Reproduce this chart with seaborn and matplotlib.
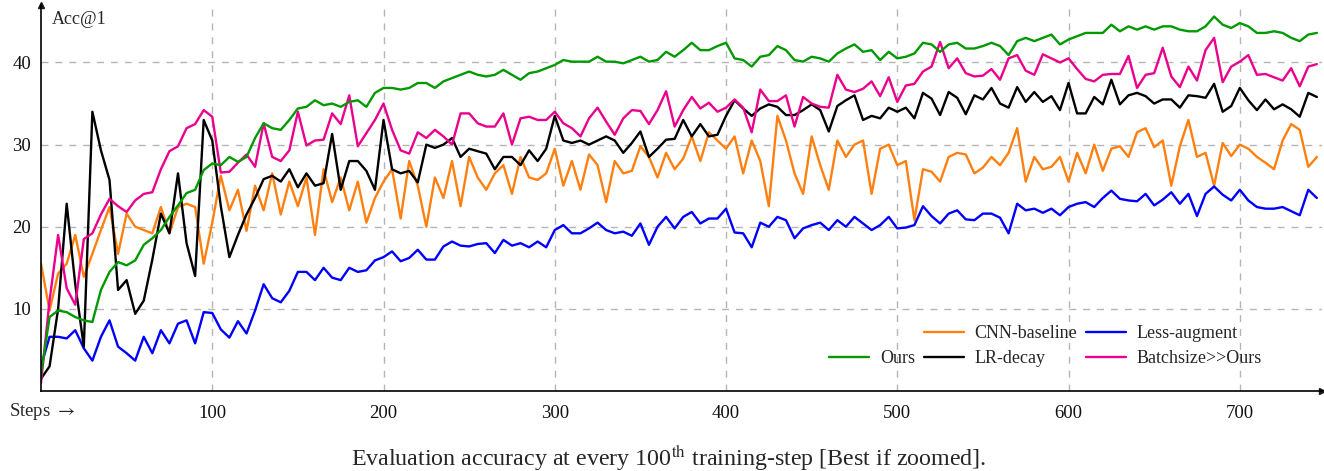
import numpy as np
import pandas as pd
import matplotlib
matplotlib.use("Agg")
import matplotlib.pyplot as plt
import seaborn as sns
from matplotlib.lines import Line2D

steps = list(range(0, 750, 5))

ours = [
    2, 9, 9.8, 9.6, 9.0, 8.6, 8.4, 12.3, 14.5, 15.7,
    15.3, 15.9, 17.8, 18.6, 19.6, 21.2, 22.6, 24.1, 24.5, 26.9,
    27.7, 27.5, 28.5, 27.9, 28.5, 30.8, 32.6, 32, 31.8, 33,
    34.4, 34.6, 35.4, 34.8, 35, 34.6, 35.2, 35.4, 34.6, 36.3,
    36.9, 36.9, 36.7, 36.9, 37.5, 37.5, 36.9, 37.7, 38.1, 38.5,
    38.9, 38.5, 38.3, 38.5, 39.1, 38.5, 37.9, 38.7, 38.9, 39.3,
    39.7, 40.3, 40.1, 40.1, 40.1, 40.7, 40.1, 40.1, 39.9, 40.3,
    40.7, 40.1, 40.3, 41.3, 40.7, 41.5, 42.4, 41.5, 41.5, 42,
    42.4, 40.5, 40.3, 39.5, 40.7, 40.9, 42, 41.5, 40.3, 40.1,
    40.7, 40.5, 40.1, 41.1, 41.7, 42.2, 41.3, 41.5, 40.3, 41.3,
    40.5, 40.7, 41.1, 42.4, 42.2, 41.3, 42.2, 42.4, 41.7, 41.7,
    42, 42.4, 42, 40.9, 42.6, 43, 42.6, 43, 43.4, 42.2,
    42.8, 43.2, 43.6, 43.6, 43.6, 44.6, 43.8, 44.4, 44, 44.4,
    44, 44.4, 44.4, 44, 43.8, 43.8, 44.4, 45.6, 44.6, 44.2,
    44.8, 44.4, 43.6, 43.6, 43.8, 43.6, 43, 42.6, 43.4, 43.6,
]

cnn_baseline = [
    15.5, 9.8, 14.3, 15.5, 19, 13.9, 16.7, 19.6, 22.4, 16.7,
    21.6, 20, 19.6, 19.2, 22.4, 19.2, 22.4, 22.8, 22.4, 15.5,
    20.5, 26.2, 22, 24.5, 19.5, 25, 22, 26.5, 21.5, 25.5,
    22.5, 26, 19, 27, 23, 26, 22, 25.5, 20.5, 23.5,
    25.5, 27, 21, 28, 25, 20, 26, 23.5, 28, 22.5,
    28.5, 26, 24.5, 26.5, 27.5, 24, 28.5, 26, 25.7, 26.5,
    29.5, 25, 28, 24.5, 28.8, 27.5, 23, 28, 26.5, 26.8,
    29.8, 28.5, 26, 29, 27, 28.3, 31, 28, 31.5, 30.5,
    29.5, 31, 26.5, 30.5, 28, 22.5, 33.5, 30.5, 26.5, 24,
    31, 27.5, 24.5, 30.5, 28.5, 30, 30.5, 24, 29.5, 30,
    27.5, 28, 20.8, 27, 26.7, 25.5, 28.5, 29, 28.8, 26.5,
    27.2, 28.5, 27.5, 29, 32, 25.5, 28.5, 27, 27.3, 28.5,
    25.5, 29, 26.5, 30, 26.8, 29.5, 29.8, 28.5, 31.5, 32,
    29.7, 30.5, 25, 29.8, 33, 28.5, 29, 25, 30.2, 28.6,
    30, 29.5, 28.5, 27.8, 27, 30.5, 32.5, 31.8, 27.3, 28.5,
]

less_augment = [
    3, 6.6, 6.6, 6.4, 7.4, 5.2, 3.7, 6.6, 8.6, 5.4,
    4.6, 3.7, 6.6, 4.6, 7.4, 5.8, 8.2, 8.6, 5.8, 9.6,
    9.5, 7.5, 6.5, 8.5, 7, 9.8, 13, 11.3, 10.8, 12.2,
    14.5, 14.5, 13.5, 15, 13.8, 13.5, 15, 14.5, 14.7, 15.9,
    16.3, 17, 15.8, 16.2, 17.2, 16, 16, 17.6, 18.2, 17.7,
    17.6, 17.9, 18, 16.8, 18.4, 17.7, 18, 17.5, 18.2, 17.5,
    19.6, 20.2, 19.2, 19.2, 19.8, 20.5, 19.6, 19.2, 19.4, 18.9,
    20.4, 17.8, 20, 21.2, 19.8, 21.2, 21.8, 20.4, 21, 21,
    22.2, 19.3, 19.2, 17.5, 20.5, 20, 21.2, 20.8, 18.6, 19.8,
    20.2, 20.5, 19.6, 20.8, 20, 21.2, 20.4, 19.6, 20.2, 21.2,
    19.8, 19.9, 20.2, 22.5, 21.3, 20.4, 21.6, 22, 20.9, 20.8,
    21.6, 21.6, 21.1, 19.2, 22.8, 22, 22.2, 21.7, 22.2, 21.4,
    22.4, 22.8, 23, 22.4, 23.5, 24.4, 23.4, 23.2, 23.1, 24,
    22.6, 23.3, 24.2, 22.8, 24, 21.3, 24, 24.9, 23.9, 23.2,
    24.5, 23.2, 22.4, 22.2, 22.2, 22.4, 21.9, 21.4, 24.5, 23.5,
]

lr_decay = [
    1.5, 3, 10, 22.8, 13, 5.4, 34, 29.3, 25.7, 12.3,
    13.5, 9.4, 11, 16, 21.6, 19.2, 26.5, 18, 14, 33,
    30.5, 22.5, 16.3, 19, 21.5, 23.5, 25.8, 26.2, 25.5, 27,
    24.8, 26.5, 25, 25.3, 31.3, 24.5, 28, 28, 26.8, 24.5,
    33, 27, 26.5, 26.8, 25.4, 30, 29.6, 30, 30.8, 28.5,
    29.5, 29.2, 28.9, 27, 28.5, 28.5, 27.5, 29.3, 28, 29.5,
    33.5, 30.5, 30.2, 30.5, 30, 30.5, 31, 30.5, 29, 30.2,
    31.6, 28.5, 29.5, 30.6, 30.7, 33, 31, 32.5, 31, 31.2,
    33.5, 35.4, 34.4, 33.5, 34.4, 34.9, 34.6, 33.6, 33.6, 34.2,
    34.9, 34.2, 31.6, 34.7, 35.4, 36, 33, 33.5, 33.2, 34.5,
    34, 34.5, 33.2, 36.3, 35.6, 33.6, 36.4, 35.7, 33.7, 36,
    35.5, 36.9, 35, 34.5, 37, 35.2, 36.4, 35.2, 35.9, 34.2,
    37.5, 33.8, 33.8, 35.8, 34.9, 37.9, 34.9, 36, 36.3, 35.9,
    35, 35.5, 35.5, 34.5, 36, 35.9, 35.7, 37.4, 34, 34.7,
    36.9, 35.4, 34.2, 35.5, 34.3, 34.9, 34.3, 33.4, 36.3, 35.8,
]

batchsize_ours = [
    1, 11, 19, 12.5, 10.5, 18.5, 19.2, 21.5, 23.4, 22.5,
    21.8, 23.2, 24, 24.2, 27, 29.2, 29.8, 32, 32.5, 34.2,
    33.4, 26.6, 26.7, 27.8, 28.8, 27.3, 32.6, 28.5, 28, 29.3,
    34, 29.9, 30.5, 30.6, 33.8, 32.5, 36, 29.8, 31.4, 33,
    35, 31.8, 29.3, 28.9, 31.5, 30.8, 31.8, 31, 30, 33.8,
    33.8, 32.6, 32.2, 32.2, 33.8, 30, 33.2, 33.4, 33, 33,
    34, 32.6, 32, 31, 33.2, 34.5, 32.8, 31.2, 33.2, 34.2,
    34.1, 32.5, 34.2, 36.5, 32.2, 34.2, 35.8, 34.4, 35.1, 34,
    34.5, 35.5, 34.5, 31.5, 36.7, 35.3, 35.3, 36, 32.2, 35.8,
    35, 34.6, 34.5, 38.5, 36.7, 36.4, 36.8, 37.7, 35.9, 38.2,
    35.2, 37.2, 37.4, 38.9, 39.5, 42.5, 39.3, 40.5, 38.7, 38.3,
    38.4, 39.2, 37.9, 40.5, 40.9, 39, 38.5, 41, 40.5, 40,
    40.5, 39.2, 38, 37.7, 38.5, 38.6, 38.6, 40.8, 36.9, 38.5,
    38.7, 41.8, 38.3, 37, 39.5, 37.8, 41.5, 43, 37.6, 39.5,
    40.1, 40.9, 38.5, 38.6, 38.2, 37.8, 39.3, 37.1, 39.5, 39.8,
]

names = ["CNN-baseline", "Less-augment", "LR-decay", "Batchsize>>Ours", "Ours"]
series = [cnn_baseline, less_augment, lr_decay, batchsize_ours, ours]
colors = {
    "Ours": "#009900",
    "CNN-baseline": "#ff8010",
    "LR-decay": "#000000",
    "Less-augment": "#0000ff",
    "Batchsize>>Ours": "#ea008c",
}

df = pd.concat(
    [pd.DataFrame({"step": steps, "acc": s, "run": n}) for n, s in zip(names, series)],
    ignore_index=True,
)

sns.set_theme(style="white")
plt.rcParams["font.family"] = ["Liberation Serif", "DejaVu Serif"]
plt.rcParams["mathtext.fontset"] = "stix"

fig = plt.figure(figsize=(13.24, 4.71), dpi=100)
ax = fig.add_axes([41 / 1324, 80 / 471, 1281 / 1324, 386 / 471])

sns.lineplot(data=df, x="step", y="acc", hue="run", hue_order=names,
             palette=colors, estimator=None, sort=False, lw=1.7,
             legend=False, ax=ax)

ax.set_xlim(0, 748)
ax.set_ylim(0, 47)
ax.set_xticks([100, 200, 300, 400, 500, 600, 700])
ax.set_yticks([10, 20, 30, 40])
ax.grid(True, color="#b5b5b5", ls=(0, (5, 5)), lw=1.0)
ax.tick_params(length=0, labelsize=13.5, colors="#111111")
ax.tick_params(axis="x", pad=10)
ax.tick_params(axis="y", pad=7)
ax.set_xlabel("")
ax.set_ylabel("")
for side in ["top", "right"]:
    ax.spines[side].set_visible(False)
for side in ["left", "bottom"]:
    ax.spines[side].set_color("black")
    ax.spines[side].set_linewidth(1.2)
ax.plot(1, 0, ">k", ms=5, transform=ax.transAxes, clip_on=False)
ax.plot(0, 1, "^k", ms=5, transform=ax.transAxes, clip_on=False)

blank = Line2D([], [], color="none")
h = {n: Line2D([], [], color=colors[n], lw=1.7) for n in names}
handles = [blank, h["Ours"], h["CNN-baseline"], h["LR-decay"], h["Less-augment"], h["Batchsize>>Ours"]]
labels = ["", "Ours", "CNN-baseline", "LR-decay", "Less-augment", "Batchsize>>Ours"]
ax.legend(handles, labels, ncol=3, loc="lower right", bbox_to_anchor=(0.966, 0.02),
          frameon=False, fontsize=13, handlelength=2.2, handletextpad=0.6,
          columnspacing=0.5, labelspacing=0.45)

fig.text(52 / 1324, 1 - 20 / 471, "Acc@1", fontsize=13, va="center")
fig.text(9 / 1324, 1 - 412 / 471, "Steps $\\rightarrow$", fontsize=13.5, va="center")
fig.text(0.505, 1 - 458 / 471,
         "Evaluation accuracy at every 100$^{\\mathrm{th}}$ training-step [Best if zoomed].",
         fontsize=17.3, ha="center", va="center")

fig.savefig("out.png", dpi=100)
